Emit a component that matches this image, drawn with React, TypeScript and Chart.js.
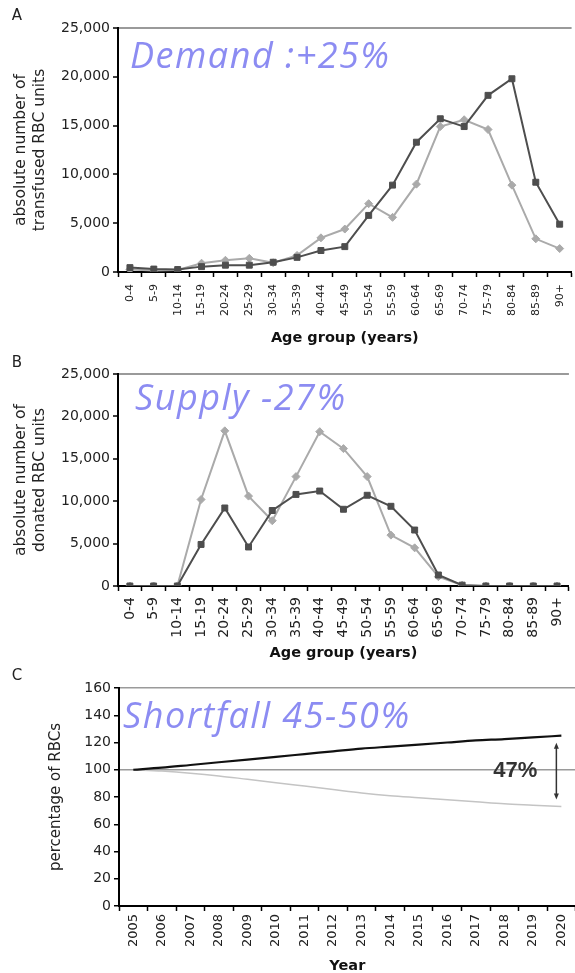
import React, { useEffect, useRef } from "react";
import { Chart, registerables } from "chart.js";
Chart.register(...registerables);

const ageGroups = ["0-4", "5-9", "10-14", "15-19", "20-24", "25-29", "30-34", "35-39", "40-44", "45-49", "50-54", "55-59", "60-64", "65-69", "70-74", "75-79", "80-84", "85-89", "90+"];
const demandFuture = [450, 300, 250, 550, 700, 700, 1000, 1500, 2200, 2600, 5800, 8900, 13300, 15700, 14900, 18100, 19800, 9200, 4900];
const demandNow = [250, 150, 200, 900, 1200, 1400, 950, 1700, 3500, 4400, 7000, 5600, 9000, 14900, 15600, 14600, 8900, 3400, 2400];
const supplyFuture = [0, 0, 0, 4900, 9200, 4600, 8900, 10800, 11200, 9050, 10700, 9400, 6600, 1300, 100, 0, 0, 0, 0];
const supplyNow = [0, 0, 0, 10200, 18300, 10600, 7700, 12900, 18200, 16200, 12900, 6000, 4500, 1100, 100, 0, 0, 0, 0];
const years = ["2005", "2006", "2007", "2008", "2009", "2010", "2011", "2012", "2013", "2014", "2015", "2016", "2017", "2018", "2019", "2020"];
const demandPct = [100, 101.5, 103.5, 105.5, 107.5, 109.5, 111.5, 113.5, 115.5, 117, 118.5, 120, 121.5, 122.5, 123.8, 125];
const supplyPct = [100, 99, 97.5, 95.5, 93, 90.5, 88, 85.5, 83, 81, 79.5, 78, 76.5, 75, 74, 73];
const ageTicks = [0, 5000, 10000, 15000, 20000, 25000];
const pctTicks = [0, 20, 40, 60, 80, 100, 120, 140, 160];

const FONT = "DejaVu Sans";
const NOTE_COLOR = "#8c8cf2";

function panelTextPlugin(letter: string, letterY: number, note: string, dx: number, dy: number) {
  return {
    id: "panelText",
    afterDraw(chart: any) {
      const { ctx, chartArea } = chart;
      ctx.save();
      ctx.font = `15px "${FONT}"`;
      ctx.fillStyle = "#222";
      ctx.textAlign = "center";
      ctx.textBaseline = "middle";
      ctx.fillText(letter, 17, letterY);
      ctx.font = `italic 36px "Open Sans"`;
      (ctx as any).letterSpacing = "1.5px";
      ctx.fillStyle = NOTE_COLOR;
      ctx.textAlign = "left";
      ctx.textBaseline = "alphabetic";
      ctx.fillText(note, chartArea.left + dx, chartArea.top + dy);
      (ctx as any).letterSpacing = "0px";
      ctx.restore();
    },
  };
}

const arrowPlugin = {
  id: "gapArrow",
  afterDatasetsDraw(chart: any) {
    const { ctx } = chart;
    const xs = chart.scales.x;
    const ys = chart.scales.y;
    const last = years.length - 1;
    const x = xs.getPixelForValue(last) - 5;
    const y1 = ys.getPixelForValue(demandPct[last]) + 7;
    const y2 = ys.getPixelForValue(supplyPct[last]) - 7;
    ctx.save();
    ctx.strokeStyle = "#333";
    ctx.fillStyle = "#333";
    ctx.lineWidth = 1.5;
    ctx.beginPath();
    ctx.moveTo(x, y1 + 4);
    ctx.lineTo(x, y2 - 4);
    ctx.stroke();
    ctx.beginPath();
    ctx.moveTo(x, y1);
    ctx.lineTo(x - 2.5, y1 + 6);
    ctx.lineTo(x + 2.5, y1 + 6);
    ctx.closePath();
    ctx.fill();
    ctx.beginPath();
    ctx.moveTo(x, y2);
    ctx.lineTo(x - 2.5, y2 - 6);
    ctx.lineTo(x + 2.5, y2 - 6);
    ctx.closePath();
    ctx.fill();
    ctx.font = `bold 22px "Liberation Sans"`;
    ctx.textAlign = "center";
    ctx.textBaseline = "middle";
    ctx.fillStyle = "#333";
    ctx.fillText("47%", x - 41, ys.getPixelForValue(100) + 1);
    ctx.restore();
  },
};

function ageConfig(dark: number[], light: number[], yTitle: string[], o: any) {
  return {
    type: "line",
    data: {
      labels: ageGroups,
      datasets: [
        { data: dark, borderColor: "#4e4e4e", backgroundColor: "#4e4e4e", borderWidth: 2, pointStyle: "rect", pointRadius: 4.2, pointBorderWidth: 1, tension: 0 },
        { data: light, borderColor: "#aaaaaa", backgroundColor: "#aaaaaa", borderWidth: 2, pointStyle: "rectRot", pointRadius: 4, pointBorderWidth: 1, tension: 0 },
      ],
    },
    options: {
      responsive: false,
      animation: false,
      devicePixelRatio: 1,
      layout: { padding: { top: o.padTop, left: 0, right: 0, bottom: 0 } },
      plugins: { legend: { display: false }, tooltip: { enabled: false } },
      scales: {
        x: {
          type: "category",
          offset: true,
          grid: { offset: true, drawOnChartArea: false, color: "#000", tickColor: "#000", tickLength: 5, tickWidth: 1.5 },
          border: { display: true, color: "#000", width: 2 },
          ticks: { autoSkip: false, minRotation: 90, maxRotation: 90, padding: o.xPad, color: "#222", font: { family: FONT, size: o.xFont } },
          title: { display: true, text: "Age group (years)", color: "#111", font: { family: FONT, size: 14.5, weight: "bold", lineHeight: o.tLH }, padding: { top: 0, bottom: o.tPad } },
          afterFit: (s: any) => { s.height = o.xHeight; },
        },
        y: {
          min: 0,
          max: 25000,
          afterBuildTicks: (s: any) => { s.ticks = ageTicks.map((v) => ({ value: v })); },
          ticks: { padding: 3, color: "#222", font: { family: FONT, size: 14 }, callback: (v: any) => Number(v).toLocaleString("en-US") },
          grid: { drawOnChartArea: true, color: (c: any) => (c.tick && c.tick.value === 25000 ? "#9a9a9a" : "rgba(0,0,0,0)"), lineWidth: 2, tickColor: "#000", tickLength: 5, tickWidth: 1.5 },
          border: { display: true, color: "#000", width: 2 },
          title: { display: true, text: yTitle, color: "#222", font: { family: FONT, size: 15.5, lineHeight: 1.2 }, padding: { top: 12, bottom: 0 } },
          afterFit: (s: any) => { s.width = 118; },
        },
      },
    },
  };
}

function pctConfig() {
  return {
    type: "line",
    data: {
      labels: years,
      datasets: [
        { data: demandPct, borderColor: "#111", borderWidth: 2.2, pointRadius: 0, cubicInterpolationMode: "monotone" },
        { data: supplyPct, borderColor: "#c4c4c4", borderWidth: 1.5, pointRadius: 0, cubicInterpolationMode: "monotone" },
      ],
    },
    options: {
      responsive: false,
      animation: false,
      devicePixelRatio: 1,
      layout: { padding: { top: 28, left: 0, right: 1, bottom: 0 } },
      plugins: { legend: { display: false }, tooltip: { enabled: false } },
      scales: {
        x: {
          type: "category",
          offset: true,
          grid: { offset: true, drawOnChartArea: false, color: "#000", tickColor: "#000", tickLength: 5, tickWidth: 1.5 },
          border: { display: true, color: "#000", width: 2 },
          ticks: { autoSkip: false, minRotation: 90, maxRotation: 90, padding: 3, color: "#222", font: { family: FONT, size: 13 } },
          title: { display: true, text: "Year", color: "#111", font: { family: FONT, size: 14.5, weight: "bold", lineHeight: 1 }, padding: { top: 0, bottom: 0 } },
          afterFit: (s: any) => { s.height = 67; },
        },
        y: {
          min: 0,
          max: 160,
          afterBuildTicks: (s: any) => { s.ticks = pctTicks.map((v) => ({ value: v })); },
          ticks: { padding: 3, color: "#222", font: { family: FONT, size: 14 } },
          grid: { drawOnChartArea: true, color: (c: any) => (c.tick && (c.tick.value === 160 || c.tick.value === 100) ? "#9a9a9a" : "rgba(0,0,0,0)"), lineWidth: 1.5, tickColor: "#000", tickLength: 5, tickWidth: 1.5 },
          border: { display: true, color: "#000", width: 2 },
          title: { display: true, text: "percentage of RBCs", color: "#222", font: { family: FONT, size: 15, lineHeight: 1.2 }, padding: { top: 47, bottom: 0 } },
          afterFit: (s: any) => { s.width = 119; },
        },
      },
    },
  };
}

export default function App() {
  const refA = useRef<HTMLCanvasElement>(null);
  const refB = useRef<HTMLCanvasElement>(null);
  const refC = useRef<HTMLCanvasElement>(null);

  useEffect(() => {
    document.body.style.margin = "0";
    const a = new Chart(refA.current as any, {
      ...(ageConfig(demandFuture, demandNow, ["absolute number of", "transfused RBC units"], { padTop: 28, xHeight: 78, xFont: 11, xPad: 7, tLH: 1.2, tPad: 3.3 }) as any),
      plugins: [panelTextPlugin("A", 16, "Demand :+25%", 12, 40)],
    });
    const b = new Chart(refB.current as any, {
      ...(ageConfig(supplyFuture, supplyNow, ["absolute number of", "donated RBC units"], { padTop: 24, xHeight: 74, xFont: 14, xPad: 6, tLH: 1, tPad: 0 }) as any),
      plugins: [panelTextPlugin("B", 13, "Supply -27%", 17, 36)],
    });
    const c = new Chart(refC.current as any, {
      ...(pctConfig() as any),
      plugins: [panelTextPlugin("C", 16, "Shortfall 45-50%", 4, 40), arrowPlugin],
    });
    return () => {
      a.destroy();
      b.destroy();
      c.destroy();
    };
  }, []);

  return (
    <div style={{ position: "relative", width: 575, height: 973, overflow: "hidden", background: "#fff" }}>
      <canvas ref={refA} width={580} height={350} style={{ position: "absolute", left: 0, top: 0 }} />
      <canvas ref={refB} width={580} height={310} style={{ position: "absolute", left: 0, top: 350 }} />
      <canvas ref={refC} width={580} height={313} style={{ position: "absolute", left: 0, top: 660 }} />
    </div>
  );
}
